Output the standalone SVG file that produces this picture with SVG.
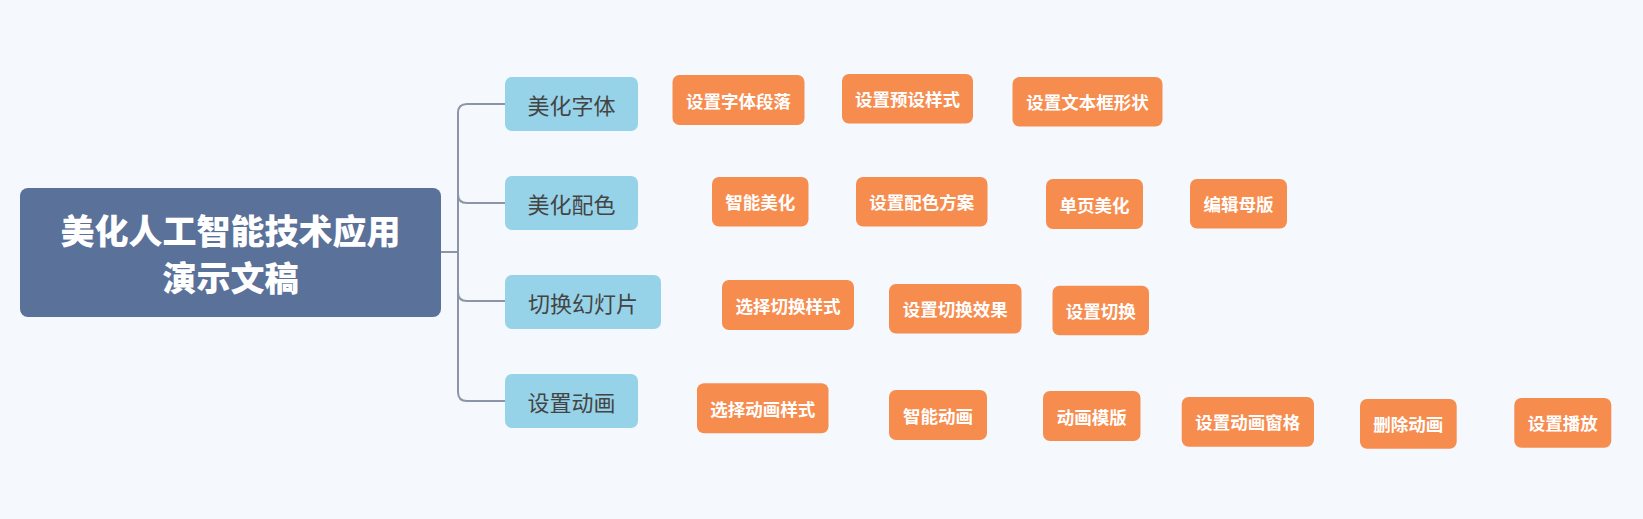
<svg xmlns="http://www.w3.org/2000/svg" width="1643" height="519" viewBox="0 0 1643 519">
<style>
.bg{fill:#f5f9fd}
.root rect{fill:#5a7199}
.root text{fill:#ffffff;font-family:"Noto Sans CJK SC","Noto Sans",sans-serif;font-weight:900;font-size:34px;text-anchor:middle;dominant-baseline:central}
.l1 rect{fill:#97d3e8}
.l1 text{fill:#444444;font-family:"Noto Sans CJK SC","Noto Sans",sans-serif;font-size:22px;text-anchor:middle;dominant-baseline:central}
.l2 rect{fill:#f78c4f}
.l2 text{fill:#ffffff;font-family:"Noto Sans CJK SC","Noto Sans",sans-serif;font-weight:bold;font-size:17.5px;text-anchor:middle;dominant-baseline:central}
.conn path{fill:none;stroke:#8c95a8;stroke-width:2}
</style>
<rect class="bg" x="0" y="0" width="1643" height="519"/>
<g id="connectors" class="conn">
<path d="M441,252 H458"/>
<path d="M505,104 H467 Q458,104 458,113 V392 Q458,401 467,401 H505"/>
<path d="M458,194 Q458,203 467,203 H505"/>
<path d="M458,292 Q458,301 467,301 H505"/>
</g>
<g id="root" class="root">
<rect x="20" y="188" width="421" height="129" rx="8"/>
<text x="230.5" y="229">美化人工智能技术应用</text>
<text x="230.5" y="276">演示文稿</text>
</g>
<g id="n-font" class="l1"><rect x="505" y="77" width="133" height="54" rx="7"/><text x="571.5" y="104">美化字体</text></g>
<g id="n-color" class="l1"><rect x="505" y="176" width="133" height="54" rx="7"/><text x="571.5" y="203">美化配色</text></g>
<g id="n-switch" class="l1"><rect x="505" y="275" width="156" height="54" rx="7"/><text x="583" y="302">切换幻灯片</text></g>
<g id="n-anim" class="l1"><rect x="505" y="374" width="133" height="54" rx="7"/><text x="571.5" y="401">设置动画</text></g>

<g id="a1" class="l2"><rect x="672.5" y="75" width="132" height="50" rx="7"/><text x="738.5" y="100">设置字体段落</text></g>
<g id="a2" class="l2"><rect x="842" y="74" width="131" height="49.5" rx="7"/><text x="907.5" y="98.8">设置预设样式</text></g>
<g id="a3" class="l2"><rect x="1012.5" y="77" width="150" height="49.5" rx="7"/><text x="1087.5" y="101.8">设置文本框形状</text></g>

<g id="b1" class="l2"><rect x="712" y="177" width="96.5" height="49.5" rx="7"/><text x="760.2" y="201.8">智能美化</text></g>
<g id="b2" class="l2"><rect x="856" y="177" width="131.5" height="49.5" rx="7"/><text x="921.8" y="201.8">设置配色方案</text></g>
<g id="b3" class="l2"><rect x="1046" y="179" width="97" height="50" rx="7"/><text x="1094.5" y="204">单页美化</text></g>
<g id="b4" class="l2"><rect x="1190" y="179" width="97" height="49.5" rx="7"/><text x="1238.5" y="203.8">编辑母版</text></g>

<g id="c1" class="l2"><rect x="722" y="280" width="132" height="50" rx="7"/><text x="788" y="305">选择切换样式</text></g>
<g id="c2" class="l2"><rect x="889" y="284" width="132.5" height="49.5" rx="7"/><text x="955.2" y="308.8">设置切换效果</text></g>
<g id="c3" class="l2"><rect x="1052.5" y="285.7" width="96.5" height="49.5" rx="7"/><text x="1100.8" y="310.5">设置切换</text></g>

<g id="d1" class="l2"><rect x="697" y="383.3" width="131.5" height="50" rx="7"/><text x="762.8" y="408.3">选择动画样式</text></g>
<g id="d2" class="l2"><rect x="889" y="390" width="98" height="50" rx="7"/><text x="938" y="415">智能动画</text></g>
<g id="d3" class="l2"><rect x="1043" y="391" width="97.5" height="50" rx="7"/><text x="1091.8" y="416">动画模版</text></g>
<g id="d4" class="l2"><rect x="1181.7" y="397" width="132.3" height="49.7" rx="7"/><text x="1247.8" y="421.8">设置动画窗格</text></g>
<g id="d5" class="l2"><rect x="1360" y="399" width="96.7" height="49.7" rx="7"/><text x="1408.3" y="423.8">删除动画</text></g>
<g id="d6" class="l2"><rect x="1514.3" y="398" width="97" height="49.7" rx="7"/><text x="1562.8" y="422.8">设置播放</text></g>
</svg>
